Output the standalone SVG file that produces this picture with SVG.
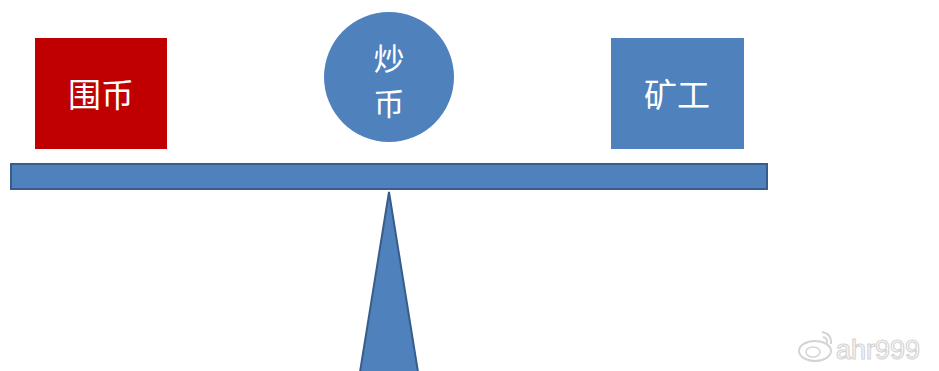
<svg xmlns="http://www.w3.org/2000/svg" width="939" height="371" viewBox="0 0 939 371">
<style>
.lbl{font-family:"Noto Sans CJK SC","Noto Sans",sans-serif;font-size:33px;fill:#ffffff;text-anchor:middle;}
.lbl2{font-family:"Noto Sans CJK SC","Noto Sans",sans-serif;font-size:31px;fill:#ffffff;text-anchor:middle;}
.blue{fill:#4F81BD;}
.edge{stroke:#385D8A;stroke-width:2;}
.wm{font-family:"Liberation Sans",Arial,sans-serif;font-size:27px;fill:#ffffff;stroke:#d4d4d4;stroke-width:1.2;}
</style>
<rect width="939" height="371" fill="#ffffff"/>
<g id="beam">
<rect class="blue edge" x="11" y="164" width="756" height="25"/>
</g>
<g id="fulcrum">
<polygon class="blue edge" points="389,192 418,372 360,372"/>
</g>
<g id="node-weibi">
<rect x="35" y="38" width="132" height="111" fill="#C00000"/>
<text class="lbl" x="101" y="107">围币</text>
</g>
<g id="node-chaobi">
<circle class="blue" cx="389" cy="77" r="65"/>
<text class="lbl2" x="389" y="70">炒</text>
<text class="lbl2" x="389" y="115">币</text>
</g>
<g id="node-kuanggong">
<rect class="blue" x="611" y="38" width="133" height="111"/>
<text class="lbl" x="677" y="107">矿工</text>
</g>
<g id="watermark">
<ellipse cx="815" cy="351" rx="16" ry="10" fill="none" stroke="#d4d4d4" stroke-width="2"/>
<ellipse cx="813" cy="352" rx="7" ry="5" fill="none" stroke="#d4d4d4" stroke-width="1.5"/>
<path d="M822 332 q10 2 9 12 M823 337 q5 1 4 6" fill="none" stroke="#d4d4d4" stroke-width="2"/>
<text class="wm" x="836" y="359">ahr999</text>
</g>
</svg>
